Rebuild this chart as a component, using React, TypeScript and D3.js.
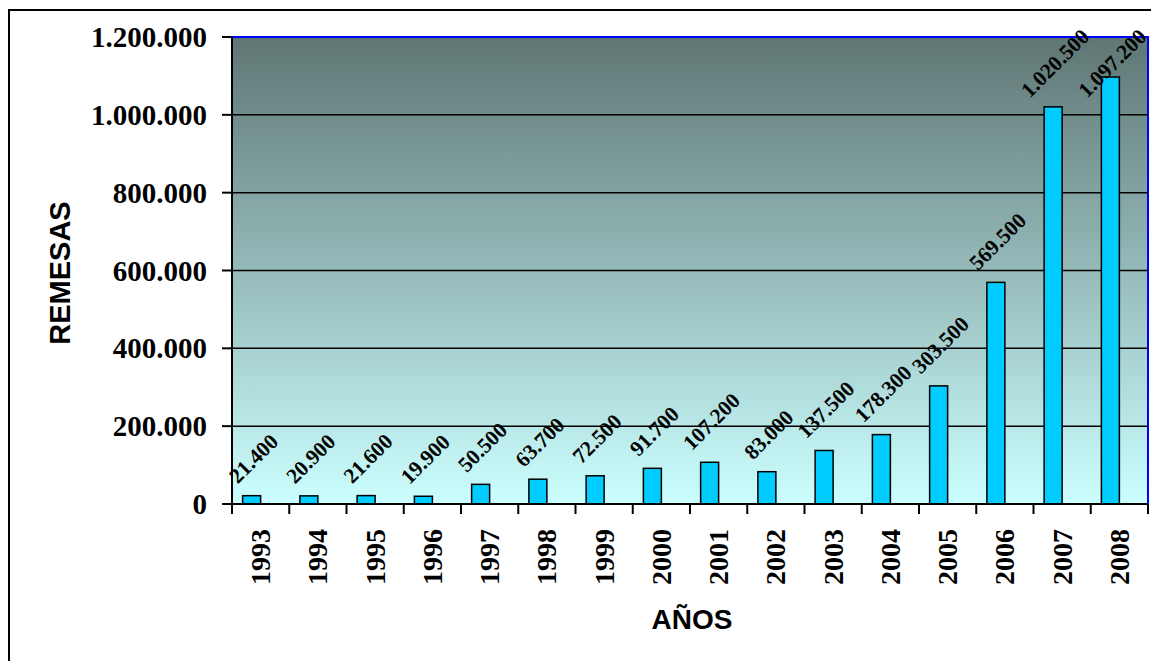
import React from "react";
import * as d3 from "d3";

const years = ["1993", "1994", "1995", "1996", "1997", "1998", "1999", "2000", "2001", "2002", "2003", "2004", "2005", "2006", "2007", "2008"];
const remesas = [21400, 20900, 21600, 19900, 50500, 63700, 72500, 91700, 107200, 83000, 137500, 178300, 303500, 569500, 1020500, 1097200];
const yTicks = [0, 200000, 400000, 600000, 800000, 1000000, 1200000];

const width = 1151;
const height = 661;
const plot = { left: 232, right: 1148, top: 37, bottom: 504 };

const locale = d3.formatLocale({ decimal: ",", thousands: ".", grouping: [3], currency: ["", ""] });
const fmt = locale.format(",d");

const App: React.FC = () => {
  const x = d3.scaleBand<string>().domain(years).range([plot.left, plot.right]);
  const y = d3.scaleLinear().domain([0, 1200000]).range([plot.bottom, plot.top]);
  const barW = 18;
  const labelSize = 21.5;

  // rough text length for centring the rotated labels
  const textLen = (s: string) =>
    s.split("").reduce((a, c) => a + (c === "." ? 0.25 : 0.5), 0) * labelSize;

  return (
    <svg
      width={width}
      height={height}
      style={{ position: "absolute", left: 0, top: 0, background: "#fff" }}
    >
      <defs>
        <linearGradient id="bg" x1="0" y1="0" x2="0" y2="1">
          <stop offset="0%" stopColor="#5e7674" />
          <stop offset="100%" stopColor="#ccffff" />
        </linearGradient>
      </defs>
      <rect x={9} y={10} width={1170} height={680} fill="none" stroke="#000" strokeWidth={2} />

      {/* plot area */}
      <rect
        x={plot.left}
        y={plot.top}
        width={plot.right - plot.left}
        height={plot.bottom - plot.top}
        fill="url(#bg)"
        stroke="#0000ff"
        strokeWidth={2}
      />

      {/* gridlines */}
      {yTicks.slice(1, -1).map((t) => (
        <line key={t} x1={plot.left} x2={plot.right} y1={y(t)} y2={y(t)} stroke="#000" strokeWidth={1.5} />
      ))}

      {/* bars */}
      {remesas.map((v, i) => {
        const cx = (x(years[i]) as number) + x.bandwidth() / 2;
        return (
          <rect
            key={years[i]}
            x={cx - barW}
            y={y(v)}
            width={barW}
            height={plot.bottom - y(v)}
            fill="#00ccff"
            stroke="#000"
            strokeWidth={1.5}
          />
        );
      })}

      {/* value labels, kept inside the chart area like Excel does */}
      {remesas.map((v, i) => {
        const s = fmt(v);
        const half = (textLen(s) * 0.707 + 10) / 2;
        const cx = (x(years[i]) as number) + x.bandwidth() / 2 - barW / 2 + 2;
        const cy = Math.max(y(v) - 11 - half, 28 + half);
        return (
          <text
            key={"l" + years[i]}
            transform={`translate(${cx},${cy}) rotate(-45)`}
            textAnchor="middle"
            dominantBaseline="central"
            fontFamily="'Liberation Serif', 'Times New Roman', serif"
            fontWeight="bold"
            fontSize={labelSize}
          >
            {s}
          </text>
        );
      })}

      {/* y axis */}
      <line x1={plot.left} x2={plot.left} y1={plot.top} y2={plot.bottom} stroke="#000" strokeWidth={2} />
      {yTicks.map((t) => (
        <g key={t}>
          <line x1={plot.left - 10} x2={plot.left} y1={y(t)} y2={y(t)} stroke="#000" strokeWidth={2} />
          <text
            x={207}
            y={y(t)}
            textAnchor="end"
            dominantBaseline="central"
            fontFamily="'Liberation Serif', 'Times New Roman', serif"
            fontWeight="bold"
            fontSize={29}
          >
            {fmt(t)}
          </text>
        </g>
      ))}

      {/* x axis */}
      <line x1={plot.left} x2={plot.right} y1={plot.bottom} y2={plot.bottom} stroke="#000" strokeWidth={2} />
      {years.map((yr) => (
        <line
          key={"t" + yr}
          x1={x(yr) as number}
          x2={x(yr) as number}
          y1={plot.bottom}
          y2={plot.bottom + 10}
          stroke="#000"
          strokeWidth={2}
        />
      ))}
      <line x1={plot.right} x2={plot.right} y1={plot.bottom} y2={plot.bottom + 10} stroke="#000" strokeWidth={2} />
      {years.map((yr) => {
        const cx = (x(yr) as number) + x.bandwidth() / 2;
        return (
          <text
            key={"x" + yr}
            transform={`translate(${cx},529) rotate(-90)`}
            textAnchor="end"
            dominantBaseline="central"
            fontFamily="'Liberation Serif', 'Times New Roman', serif"
            fontWeight="bold"
            fontSize={28}
          >
            {yr}
          </text>
        );
      })}

      {/* axis titles */}
      <text
        transform="translate(60,273) rotate(-90)"
        textAnchor="middle"
        dominantBaseline="central"
        fontFamily="'Liberation Sans', Arial, sans-serif"
        fontWeight="bold"
        fontSize={29}
      >
        REMESAS
      </text>
      <text
        x={692}
        y={629}
        textAnchor="middle"
        fontFamily="'Liberation Sans', Arial, sans-serif"
        fontWeight="bold"
        fontSize={28}
      >
        AÑOS
      </text>
    </svg>
  );
};

export default App;
